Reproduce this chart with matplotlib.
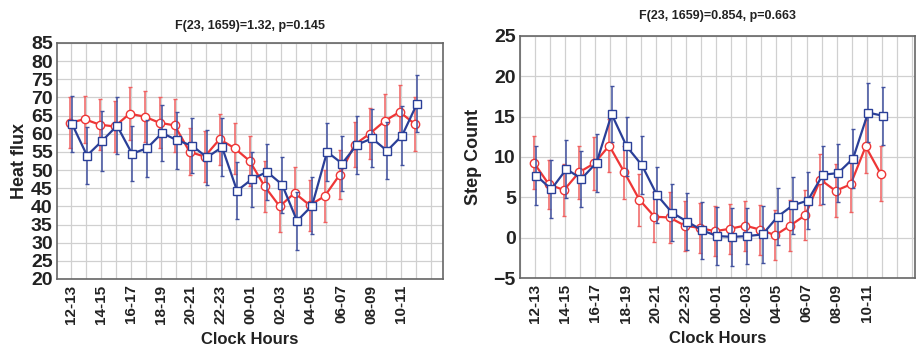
import matplotlib.pyplot as plt
import numpy as np

plt.rcParams['font.family'] = ['Liberation Sans', 'DejaVu Sans']

hours = ['12-13', '13-14', '14-15', '15-16', '16-17', '17-18', '18-19', '19-20',
         '20-21', '21-22', '22-23', '23-00', '00-01', '01-02', '02-03', '03-04',
         '04-05', '05-06', '06-07', '07-08', '08-09', '09-10', '10-11', '11-12']

# Heat flux
heat_red = [63, 64, 62.5, 62, 65.5, 64.7, 63, 62.3, 55, 53.7, 58.5, 56,
            52.5, 45.5, 40, 43.7, 40.3, 42.8, 48.7, 57, 60, 63.5, 66, 62.7]
heat_red_err = [7, 6.5, 7, 7, 7.3, 7, 7, 7.2, 6.5, 7, 7, 7,
                7, 7, 7, 7, 7, 7.2, 6.8, 6.3, 7, 7.5, 7.5, 7.5]
heat_blue = [62.7, 54, 58, 62.2, 54.5, 56, 60.2, 58.2, 56.7, 53.5, 56.3, 44.3,
             47.5, 49.5, 46, 36, 40.2, 55, 51.8, 57, 58.7, 55.3, 59.5, 68.3]
heat_blue_err = [7.8, 7.8, 8.3, 7.8, 7.5, 7.8, 7.6, 7.8, 7.6, 7.5, 8, 7.8,
                 7.6, 7.8, 7.7, 8, 7.8, 8, 7.5, 8, 8, 7.8, 8, 7.8]

# Step count
step_red = [9.3, 6.6, 5.9, 8.1, 9.2, 11.4, 8.1, 4.7, 2.6, 2.5, 1.5, 1.2,
            0.8, 1.1, 1.5, 1.0, 0.3, 1.5, 2.8, 7.2, 5.8, 6.6, 11.3, 7.9]
step_red_err = [3.3, 3.0, 3.2, 3.3, 3.3, 3.3, 3.3, 3.2, 3.1, 3.2, 3.1, 3.1,
                3.1, 3.1, 3.1, 3.1, 3.1, 3.2, 3.1, 3.2, 3.3, 3.4, 3.3, 3.4]
step_blue = [7.7, 6.0, 8.5, 7.3, 9.3, 15.3, 11.3, 9.0, 5.3, 3.1, 2.0, 0.9,
             0.2, 0.1, 0.2, 0.4, 2.6, 4.0, 4.6, 7.8, 8.0, 9.8, 15.5, 15.1]
step_blue_err = [3.6, 3.6, 3.6, 3.5, 3.6, 3.5, 3.6, 3.6, 3.5, 3.5, 3.5, 3.5,
                 3.6, 3.6, 3.5, 3.5, 3.5, 3.5, 3.5, 3.6, 3.6, 3.7, 3.7, 3.6]

red = '#ee3636'
red_err = '#f06060'
blue = '#2a3f98'
blue_err = '#41519f'

x = np.arange(len(hours))

fig = plt.figure(figsize=(9.17, 3.49), dpi=100)
ax1 = fig.add_axes([0.062, 0.2006, 0.421, 0.6764])
ax2 = fig.add_axes([0.567, 0.2034, 0.431, 0.6936])


def draw(ax, red_y, red_e, blue_y, blue_e):
    ax.errorbar(x - 0.08, red_y, yerr=red_e, color=red, ecolor=red_err,
                elinewidth=1.1, capsize=1.5, marker='o', markersize=6,
                markerfacecolor='white', markeredgecolor=red, lw=1.6, zorder=3)
    ax.errorbar(x + 0.08, blue_y, yerr=blue_e, color=blue, ecolor=blue_err,
                elinewidth=1.1, capsize=1.5, marker='s', markersize=6,
                markerfacecolor='white', markeredgecolor=blue, lw=1.6, zorder=4)
    ax.set_xticks(x[::2])
    ax.set_xticklabels(hours[::2], rotation=90, fontsize=11, fontweight='bold',
                       color='#222222')
    ax.set_xticks(np.arange(-1, 26), minor=True)
    ax.grid(True, which='minor', axis='x', color='#d0d0d0', lw=0.9)
    ax.grid(True, which='major', axis='both', color='#d0d0d0', lw=0.9)
    ax.set_axisbelow(True)
    ax.tick_params(axis='x', which='both', length=0, pad=4)
    ax.tick_params(axis='y', length=0, pad=3, labelsize=14, labelcolor='#222222')
    for s in ax.spines.values():
        s.set_color('#666666')
        s.set_linewidth(1.2)
    ax.set_xlabel('Clock Hours', fontsize=12, fontweight='bold', color='#222222',
                  labelpad=6)


draw(ax1, heat_red, heat_red_err, heat_blue, heat_blue_err)
ax1.set_xlim(-0.93, 24.8)
ax1.set_ylim(20, 85)
ax1.set_yticks(np.arange(20, 86, 5))
for lab in ax1.get_yticklabels():
    lab.set_fontweight('bold')
ax1.set_ylabel('Heat flux', fontsize=13, fontweight='bold', color='#222222',
               labelpad=2)
ax1.set_title('F(23, 1659)=1.32, p=0.145', fontsize=9, fontweight='bold',
              color='#222222', pad=10)

draw(ax2, step_red, step_red_err, step_blue, step_blue_err)
ax2.set_xlim(-1.0, 25.2)
ax2.set_ylim(-5, 25)
ax2.set_yticks(np.arange(-5, 26, 5))
for lab in ax2.get_yticklabels():
    lab.set_fontweight('bold')
ax2.set_ylabel('Step Count', fontsize=13, fontweight='bold', color='#222222',
               labelpad=8)
ax2.set_title('F(23, 1659)=0.854, p=0.663', fontsize=9, fontweight='bold',
              color='#222222', pad=12)

fig.savefig('out.png', dpi=100)
